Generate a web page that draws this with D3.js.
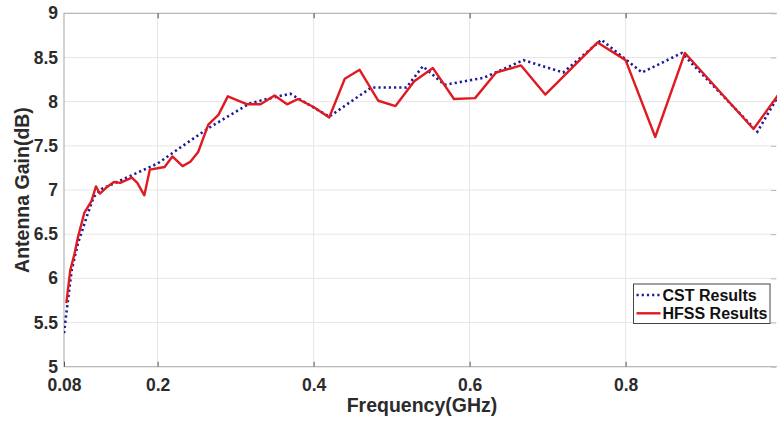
<!DOCTYPE html>
<html>
<head>
<meta charset="utf-8">
<script src="https://cdn.jsdelivr.net/npm/d3@7"></script>
<style>
  body { margin: 0; background: #fff; }
  text { font-family: "Liberation Sans", Arial, sans-serif; font-weight: bold; }
</style>
</head>
<body>
<div class="gainChart"></div>
<script>
// values
const cstFreq = [0.08, 0.085, 0.09, 0.098, 0.11, 0.118, 0.128, 0.2, 0.229, 0.267, 0.318, 0.34, 0.37, 0.42,
  0.474, 0.519, 0.54, 0.568, 0.618, 0.669, 0.72, 0.769, 0.821, 0.872, 0.969, 1.0];
const cstGain = [5.38, 5.75, 6.1, 6.4, 6.72, 6.92, 7.01, 7.3, 7.48, 7.71, 7.98, 8.03, 8.09, 7.83,
  8.16, 8.16, 8.4, 8.19, 8.27, 8.47, 8.33, 8.7, 8.33, 8.55, 7.66, 8.13];

const hfssFreq = [0.083, 0.088, 0.093, 0.098, 0.106, 0.115, 0.121, 0.126, 0.136, 0.144, 0.152, 0.167, 0.174,
  0.183, 0.19, 0.209, 0.219, 0.232, 0.242, 0.252, 0.265, 0.278, 0.29, 0.315, 0.332, 0.35, 0.366, 0.38, 0.4,
  0.42, 0.44, 0.459, 0.483, 0.505, 0.529, 0.553, 0.58, 0.607, 0.634, 0.666, 0.697, 0.764, 0.8, 0.838, 0.876,
  0.964, 1.0];
const hfssGain = [5.72, 6.09, 6.26, 6.47, 6.74, 6.87, 7.04, 6.96, 7.04, 7.09, 7.08, 7.14, 7.08,
  6.94, 7.23, 7.26, 7.38, 7.27, 7.32, 7.43, 7.74, 7.85, 8.06, 7.97, 7.97, 8.07, 7.97, 8.03, 7.94,
  7.82, 8.26, 8.36, 8.01, 7.95, 8.23, 8.38, 8.03, 8.04, 8.33, 8.41, 8.08, 8.67, 8.47, 7.6, 8.55,
  7.69, 8.13];

const xTicks = [0.08, 0.2, 0.4, 0.6, 0.8];
const xGrid = [0.2, 0.4, 0.6, 0.8, 1];
const yTicks = [5, 5.5, 6, 6.5, 7, 7.5, 8, 8.5, 9];
const seriesNames = ["CST Results", "HFSS Results"];

const W = 777, H = 421;
const plotLeft = 64, plotTop = 13.3, plotBottom = 366.7, plotRight = 781.6;

const x = d3.scaleLinear().domain([0.08, 1]).range([plotLeft, plotRight]);
const y = d3.scaleLinear().domain([5, 9]).range([plotBottom, plotTop]);

const svg = d3.select(".gainChart").append("svg")
  .attr("width", W)
  .attr("height", H);

svg.append("rect").attr("width", W).attr("height", H).attr("fill", "#fff");

// grid
svg.append("g")
  .selectAll("line")
  .data(yTicks.slice(1, -1))
  .enter().append("line")
  .attr("x1", plotLeft).attr("x2", plotRight)
  .attr("y1", d => y(d)).attr("y2", d => y(d))
  .attr("stroke", "#e6e6e6").attr("stroke-width", 1);

svg.append("g")
  .selectAll("line")
  .data(xGrid)
  .enter().append("line")
  .attr("x1", d => x(d)).attr("x2", d => x(d))
  .attr("y1", plotTop).attr("y2", plotBottom)
  .attr("stroke", "#e6e6e6").attr("stroke-width", 1);

// box
svg.append("rect")
  .attr("x", plotLeft).attr("y", plotTop)
  .attr("width", plotRight - plotLeft).attr("height", plotBottom - plotTop)
  .attr("fill", "none").attr("stroke", "#b4b4b4").attr("stroke-width", 1.2);

// axes
const xAxis = svg.append("g")
  .attr("transform", "translate(0," + plotBottom + ")")
  .call(d3.axisBottom(x).tickValues(xTicks).tickSize(-5).tickPadding(12).tickFormat(d3.format("~g")));
xAxis.select(".domain").remove();
xAxis.selectAll("line").attr("stroke", "#555");
xAxis.selectAll("text").attr("font-size", 17.5).attr("fill", "#2b2b2b");

const xTop = svg.append("g")
  .attr("transform", "translate(0," + plotTop + ")")
  .call(d3.axisTop(x).tickValues(xGrid).tickSize(-5).tickFormat(""));
xTop.select(".domain").remove();
xTop.selectAll("line").attr("stroke", "#444");

const yAxis = svg.append("g")
  .attr("transform", "translate(" + plotLeft + ",0)")
  .call(d3.axisLeft(y).tickValues(yTicks).tickSize(0).tickPadding(6).tickFormat(d3.format("~g")));
yAxis.select(".domain").remove();
yAxis.selectAll("text").attr("font-size", 17.5).attr("fill", "#2b2b2b");

const yRight = svg.append("g")
  .attr("transform", "translate(776,0)")
  .call(d3.axisRight(y).tickValues(yTicks).tickSize(-5).tickFormat(""));
yRight.select(".domain").remove();
yRight.selectAll("line").attr("stroke", "#bbb");

// titles
svg.append("text")
  .attr("x", 422).attr("y", 412)
  .attr("text-anchor", "middle")
  .attr("font-size", 19.5).attr("fill", "#2b2b2b")
  .text("Frequency(GHz)");

svg.append("text")
  .attr("transform", "translate(29,190) rotate(-90)")
  .attr("text-anchor", "middle")
  .attr("font-size", 19.5).attr("fill", "#2b2b2b")
  .text("Antenna Gain(dB)");

// lines
svg.append("clipPath").attr("id", "plotClip")
  .append("rect").attr("x", plotLeft).attr("y", plotTop - 5)
  .attr("width", plotRight - plotLeft).attr("height", plotBottom - plotTop + 10);

const line = d3.line().x(d => x(d[0])).y(d => y(d[1]));

svg.append("path")
  .datum(cstFreq.map((f, i) => [f, cstGain[i]]))
  .attr("clip-path", "url(#plotClip)")
  .attr("d", line)
  .attr("fill", "none")
  .attr("stroke", "#1c1c96")
  .attr("stroke-width", 2.6)
  .attr("stroke-dasharray", "2.2,3");

svg.append("path")
  .datum(hfssFreq.map((f, i) => [f, hfssGain[i]]))
  .attr("clip-path", "url(#plotClip)")
  .attr("d", line)
  .attr("fill", "none")
  .attr("stroke", "#e01a22")
  .attr("stroke-width", 2.4)
  .attr("stroke-linejoin", "round");

// legend
const legend = svg.append("g").attr("transform", "translate(633.5,284)");
legend.append("rect")
  .attr("width", 136.5).attr("height", 39.5)
  .attr("fill", "#fff").attr("stroke", "#444").attr("stroke-width", 1);

const legendStyles = [
  { color: "#1c1c96", dash: "2.2,3", width: 2.6 },
  { color: "#e01a22", dash: null, width: 2.4 }
];
seriesNames.forEach((name, i) => {
  const ly = 11 + i * 18.3;
  legend.append("line")
    .attr("x1", 3).attr("x2", 27)
    .attr("y1", ly).attr("y2", ly)
    .attr("stroke", legendStyles[i].color)
    .attr("stroke-width", legendStyles[i].width)
    .attr("stroke-dasharray", legendStyles[i].dash);
  legend.append("text")
    .attr("x", 29).attr("y", ly + 6)
    .attr("font-size", 16).attr("fill", "#111")
    .text(name);
});
</script>
</body>
</html>
